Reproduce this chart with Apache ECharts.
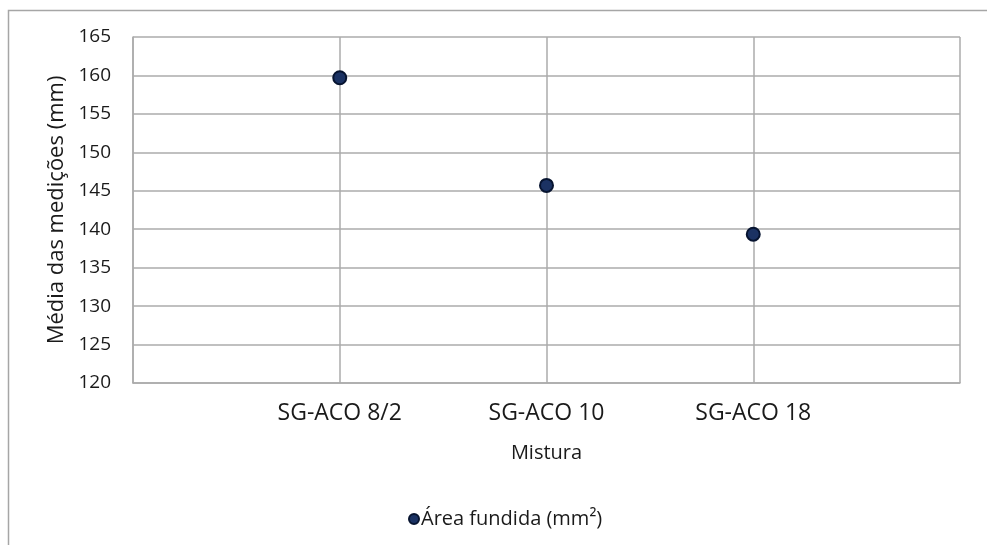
<!DOCTYPE html>
<html>
<head>
<meta charset="utf-8">
<script src="https://cdn.jsdelivr.net/npm/echarts@6/dist/echarts.min.js"></script>
<style>
html,body{margin:0;padding:0;background:#fff;}
#chart{width:987px;height:545px;}
</style>
</head>
<body>
<div id="chart"></div>
<script>
// Data
const categories = ['SG-ACO 8/2', 'SG-ACO 10', 'SG-ACO 18'];
const values = [159.7, 145.7, 139.35];
const seriesName = 'Área fundida (mm²)';
const xAxisTitle = 'Mistura';
const yAxisTitle = 'Média das medições (mm)';

const FONT = '"Open Sans", sans-serif';
const TXT = '#1a1a1a';
const GRID = '#ababab';

const chart = echarts.init(document.getElementById('chart'), null, {renderer: 'canvas'});
chart.setOption({
  animation: false,
  backgroundColor: '#ffffff',
  textStyle: {fontFamily: FONT},
  graphic: [{
    type: 'polyline',
    shape: {points: [[8.5, 545], [8.5, 10.5], [987, 10.5]]},
    style: {stroke: '#a6a6a6', lineWidth: 1.5, fill: null},
    silent: true
  }],
  grid: {left: 133, top: 37, right: 27, bottom: 162, containLabel: false},
  legend: {
    data: [{name: seriesName, icon: 'circle'}],
    left: 403, top: 504,
    itemWidth: 10, itemHeight: 10, itemGap: 4,
    textStyle: {fontFamily: FONT, fontSize: 20, color: TXT, padding: [0, 0, 0, -3]}
  },
  xAxis: {
    type: 'value', min: 0, max: 4, interval: 1,
    name: xAxisTitle, nameLocation: 'middle', nameGap: 60,
    nameTextStyle: {fontFamily: FONT, fontSize: 20, color: TXT},
    axisLine: {show: true, lineStyle: {color: GRID, width: 1.5}},
    axisTick: {show: false},
    splitLine: {show: true, lineStyle: {color: GRID, width: 1.5}},
    axisLabel: {
      margin: 19, fontFamily: FONT, fontSize: 23, color: TXT,
      formatter: function (v) { return (v >= 1 && v <= categories.length) ? categories[v - 1] : ''; }
    }
  },
  yAxis: {
    type: 'value', min: 120, max: 165, interval: 5,
    name: yAxisTitle, nameLocation: 'middle', nameGap: 64, nameRotate: 90,
    nameTextStyle: {fontFamily: FONT, fontSize: 22, color: TXT},
    axisLine: {show: true, lineStyle: {color: GRID, width: 1.5}},
    axisTick: {show: false},
    splitLine: {show: true, lineStyle: {color: GRID, width: 1.5}},
    axisLabel: {margin: 22, fontFamily: FONT, fontSize: 19, color: TXT}
  },
  series: [{
    name: seriesName,
    type: 'scatter',
    symbol: 'circle',
    symbolSize: 13,
    itemStyle: {color: '#1b3263', borderColor: '#071430', borderWidth: 2, opacity: 1},
    data: values.map(function (v, i) { return [i + 1, v]; })
  }]
});
</script>
</body>
</html>
